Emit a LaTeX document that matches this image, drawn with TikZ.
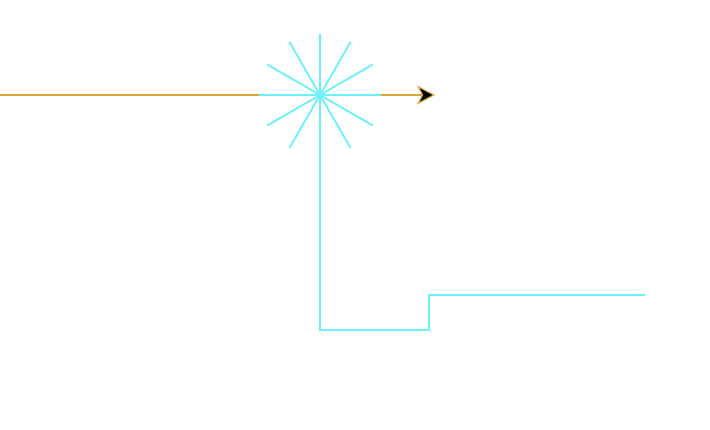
\documentclass[tikz,border=0pt]{standalone}
\usetikzlibrary{arrows.meta}
\definecolor{goldc}{HTML}{D4AA3C}
\definecolor{cyanc}{HTML}{6AF2F8}
\tikzset{
  goldline/.style={draw=goldc, line width=1.6pt},
  cyanline/.style={draw=cyanc, line width=1.8pt},
}
\begin{document}
\begin{tikzpicture}[x=1pt,y=-1pt]
\useasboundingbox (0,0) rectangle (710,430);
\coordinate (start) at (0,95);
\coordinate (c) at (320,95);
\coordinate (tip) at (435,95);
\coordinate (b1) at (320,330);
\coordinate (b2) at (429,330);
\coordinate (b3) at (429,295);
\coordinate (end) at (645,295);
\draw[goldline, -{Stealth[fill=black, length=18pt, width=19pt, inset=5pt, line width=1.1pt]}] (start) -- (tip);
\foreach \a in {0,30,...,330} {
  \draw[cyanline] (c) -- ++(\a:61);
}
\draw[cyanline] (c) -- (b1) -- (b2) -- (b3) -- (end);
\end{tikzpicture}
\end{document}
